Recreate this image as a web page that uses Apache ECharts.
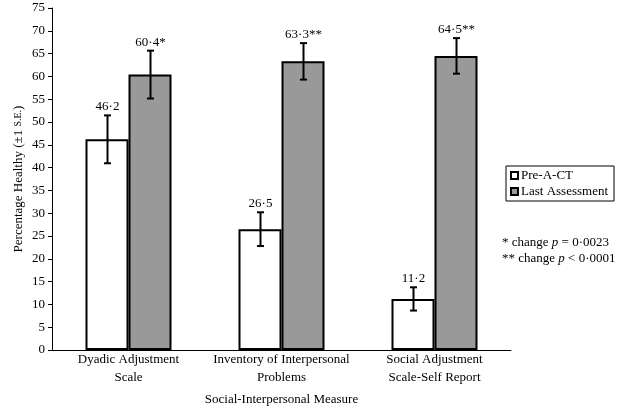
<!DOCTYPE html>
<html><head><meta charset="utf-8">
<script src="https://cdn.jsdelivr.net/npm/echarts@6/dist/echarts.min.js"></script>
<style>html,body{margin:0;padding:0;background:#fff}#c{width:642px;height:413px}</style>
</head><body><div id="c"></div>
<script>
const categories = ['Dyadic Adjustment\nScale', 'Inventory of Interpersonal\nProblems', 'Social Adjustment\nScale-Self Report'];
const preValues = [46.2, 26.5, 11.2];
const preErrors = [5.25, 3.7, 2.55];
const preLabels = ['46·2', '26·5', '11·2'];
const lastValues = [60.4, 63.3, 64.5];
const lastErrors = [5.25, 4.0, 3.9];
const lastLabels = ['60·4*', '63·3**', '64·5**'];
const yTicks = {min: 0, max: 75, interval: 5};

const FONT = 'Liberation Serif';
const BARW = 43;

function errSeries(name, vals, errs, labels, offset) {
  return {
    type: 'custom', name: name + ' err', z: 5, silent: true,
    encode: {x: 0, y: 1},
    data: vals.map((v, i) => [i, v, errs[i]]),
    renderItem: function (params, api) {
      const i = api.value(0), v = api.value(1), e = api.value(2);
      const c = api.coord([i, v]);
      const x = Math.round(c[0] + offset) + 0.5;
      const top = api.coord([i, v + e])[1];
      const bot = api.coord([i, v - e])[1];
      const st = {stroke: '#000', lineWidth: 2};
      return {type: 'group', children: [
        {type: 'line', shape: {x1: x, y1: top, x2: x, y2: bot}, style: st},
        {type: 'line', shape: {x1: x - 3.5, y1: top, x2: x + 3.5, y2: top}, style: st},
        {type: 'line', shape: {x1: x - 3.5, y1: bot, x2: x + 3.5, y2: bot}, style: st},
        {type: 'text', x: x, y: top - 2, style: {text: labels[params.dataIndex], fill: '#000',
          font: '13px "' + FONT + '"', textAlign: 'center', textVerticalAlign: 'bottom'}}
      ]};
    }
  };
}

const chart = echarts.init(document.getElementById('c'));
chart.setOption({
  animation: false,
  backgroundColor: '#fff',
  textStyle: {fontFamily: FONT, color: '#000'},
  grid: {left: 52, right: 131, top: 8, bottom: 63, containLabel: false},
  legend: {
    orient: 'vertical', left: 506, top: 166,
    data: ['Pre-A-CT', 'Last Assessment'],
    borderColor: '#000', borderWidth: 1, padding: [3, 6, 3, 4], itemGap: 3,
    itemWidth: 7, itemHeight: 7, icon: 'rect',
    textStyle: {fontFamily: FONT, fontSize: 13, color: '#000', padding: [0, 0, 0, -2]}
  },
  xAxis: {
    type: 'category', data: categories,
    axisLine: {lineStyle: {color: '#000', width: 1}},
    axisTick: {show: false},
    axisLabel: {fontFamily: FONT, fontSize: 13, color: '#000', lineHeight: 18, margin: 1, interval: 0},
    name: 'Social-Interpersonal Measure', nameLocation: 'middle', nameGap: 43,
    nameMoveOverlap: false,
    nameTextStyle: {fontFamily: FONT, fontSize: 13, color: '#000'}
  },
  yAxis: {
    type: 'value', min: yTicks.min, max: yTicks.max, interval: yTicks.interval,
    axisLine: {show: true, lineStyle: {color: '#000', width: 1}},
    axisTick: {show: true, inside: false, length: 4, lineStyle: {color: '#000'}},
    splitLine: {show: false},
    axisLabel: {fontFamily: FONT, fontSize: 13, color: '#000', margin: 7},
    name: 'Percentage Healthy (±1 {sc|S.E.})', nameLocation: 'middle', nameGap: 27,
    nameMoveOverlap: false,
    nameTextStyle: {fontFamily: FONT, fontSize: 13, color: '#000',
      rich: {sc: {fontFamily: FONT, fontSize: 10, color: '#000'}}}
  },
  series: [
    {name: 'Pre-A-CT', type: 'bar', data: preValues, barWidth: BARW, barGap: '0%',
     itemStyle: {color: '#ffffff', borderColor: '#000', borderWidth: 2}},
    {name: 'Last Assessment', type: 'bar', data: lastValues, barWidth: BARW, barGap: '0%',
     itemStyle: {color: '#999999', borderColor: '#000', borderWidth: 2}},
    errSeries('Pre-A-CT', preValues, preErrors, preLabels, -BARW / 2),
    errSeries('Last Assessment', lastValues, lastErrors, lastLabels, BARW / 2)
  ],
  graphic: [
    {type: 'text', left: 502, top: 235, style: {
      text: '* change {i|p} = 0·0023\n** change {i|p} < 0·0001',
      font: '13px "' + FONT + '"', fill: '#000', lineHeight: 16,
      rich: {i: {fontStyle: 'italic', fontFamily: FONT, fontSize: 13, fill: '#000'}}
    }}
  ]
});
</script></body></html>
